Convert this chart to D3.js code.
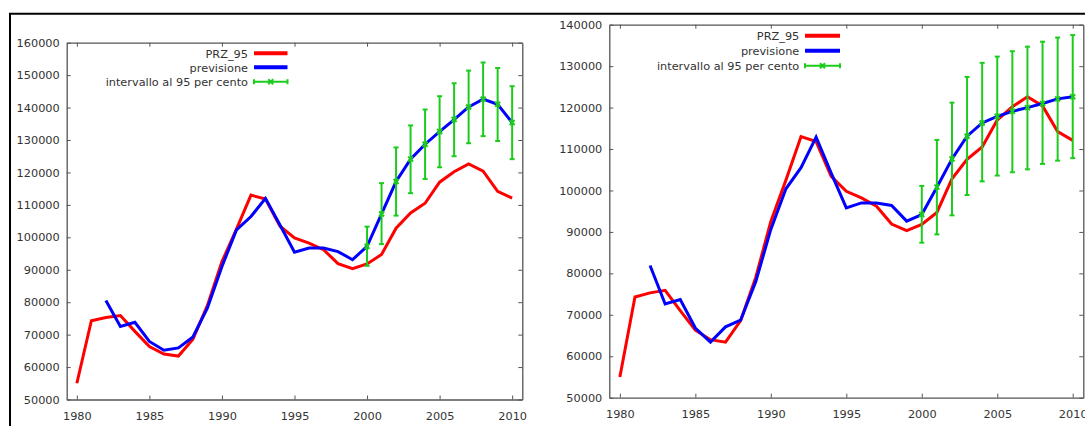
<!DOCTYPE html>
<html>
<head>
<meta charset="utf-8">
<script src="https://cdn.jsdelivr.net/npm/d3@7"></script>
<style>
  body { margin: 0; background: #fff; }
  svg { display: block; }
</style>
</head>
<body>
<div id="chart"></div>
<script>
// data
var years = [1980, 1981, 1982, 1983, 1984, 1985, 1986, 1987, 1988, 1989, 1990,
    1991, 1992, 1993, 1994, 1995, 1996, 1997, 1998, 1999, 2000,
    2001, 2002, 2003, 2004, 2005, 2006, 2007, 2008, 2009, 2010];
var prz95 = [55000, 74300, 75300, 75900, 71000, 66300, 64000, 63400, 68600, 79000, 92500,
    102500, 113000, 111800, 103400, 99800, 98200, 96200, 91900, 90300, 91800,
    94700, 102800, 107500, 110500, 117000, 120200, 122600, 120400, 114200, 112100];

var forecastYears = [1982, 1983, 1984, 1985, 1986, 1987, 1988, 1989, 1990,
    1991, 1992, 1993, 1994, 1995, 1996, 1997, 1998, 1999, 2000,
    2001, 2002, 2003, 2004, 2005, 2006, 2007, 2008, 2009, 2010];
var forecastLeft = [80500, 72500, 73800, 67900, 65200, 65900, 69300, 78200, 91000,
    102300, 106400, 112000, 103800, 95400, 96700, 96700, 95600, 93100, 97200,
    107200, 117200, 124100, 128700, 132600, 136300, 140200, 142600, 141000, 135400];
var forecastRight = [81900, 72600, 73700, 66800, 63400, 67100, 68700, 78000, 90600,
    100400, 105500, 112900, 104200, 95800, 97000, 97000, 96400, 92600, 94200,
    100800, 107600, 113100, 116300, 117900, 119100, 120000, 121000, 122100, 122600];

var ciYears = [2000, 2001, 2002, 2003, 2004, 2005, 2006, 2007, 2008, 2009, 2010];
var ciLowLeft = [91200, 97900, 106700, 113600, 118000, 121600, 125000, 129000, 131200, 129700, 124100];
var ciHighLeft = [103300, 116700, 127700, 134500, 139400, 143500, 147500, 151400, 153900, 152200, 146600];
var ciLowRight = [87400, 89400, 94000, 98900, 102200, 103600, 104400, 105100, 106400, 107200, 107800];
var ciHighRight = [101100, 112200, 121200, 127400, 130800, 132300, 133600, 134700, 135900, 136900, 137500];

var xTicks = [1980, 1985, 1990, 1995, 2000, 2005, 2010];
var yTicksLeft = [50000, 60000, 70000, 80000, 90000, 100000, 110000, 120000, 130000, 140000, 150000, 160000];
var yTicksRight = [50000, 60000, 70000, 80000, 90000, 100000, 110000, 120000, 130000, 140000];

var legendLabels = ["PRZ_95", "previsione", "intervallo al 95 per cento"];

// style
var svgWidth = 1085, svgHeight = 426;
var redColour = "#ff0000", blueColour = "#0000ff", greenColour = "#1ccc1c";
var axisColour = "#555", textColour = "#333";
var fontFamily = "'DejaVu Sans', Verdana, sans-serif", fontSize = 11.3;

var svg = d3.select("#chart").append("svg")
    .attr("width", svgWidth).attr("height", svgHeight);

// black frame (top + left edge)
svg.append("line")
    .attr("x1", 9).attr("y1", 13.8).attr("x2", svgWidth).attr("y2", 13.8)
    .style("stroke", "#000").style("stroke-width", 2);
svg.append("line")
    .attr("x1", 10).attr("y1", 13).attr("x2", 10).attr("y2", svgHeight)
    .style("stroke", "#000").style("stroke-width", 2);

function drawPanel(p) {
    var g = svg.append("g");
    var x = d3.scaleLinear().domain([1979.3, 2010.7]).range([p.left, p.right]);
    var y = d3.scaleLinear().domain([50000, p.yMax]).range([p.bottom, p.top]);

    //axes (ticks inside, mirrored on top/right)
    var bottomAxis = g.append("g").attr("transform", "translate(0," + p.bottom + ")")
        .call(d3.axisBottom(x).tickValues(xTicks).tickFormat(d3.format("d"))
            .tickSizeInner(-4).tickSizeOuter(0).tickPadding(12));
    var topAxis = g.append("g").attr("transform", "translate(0," + p.top + ")")
        .call(d3.axisTop(x).tickValues(xTicks).tickFormat("")
            .tickSizeInner(-4).tickSizeOuter(0));
    var leftAxis = g.append("g").attr("transform", "translate(" + p.left + ",0)")
        .call(d3.axisLeft(y).tickValues(p.yTicks).tickFormat(d3.format("d"))
            .tickSizeInner(-4).tickSizeOuter(0).tickPadding(7));
    var rightAxis = g.append("g").attr("transform", "translate(" + p.right + ",0)")
        .call(d3.axisRight(y).tickValues(p.yTicks).tickFormat("")
            .tickSizeInner(-4).tickSizeOuter(0));
    [bottomAxis, topAxis, leftAxis, rightAxis].forEach(function(a) {
        a.selectAll("path.domain").style("stroke", axisColour).style("stroke-width", 1.3);
        a.selectAll("line").style("stroke", axisColour).style("stroke-width", 1);
        a.selectAll("text").style("fill", textColour)
            .style("font-family", fontFamily).style("font-size", fontSize + "px");
    });

    var plot = g.append("g");
    var line = d3.line().x(function(d) { return x(d[0]); }).y(function(d) { return y(d[1]); });

    //PRZ_95
    plot.append("path")
        .datum(d3.zip(years, prz95))
        .attr("d", line)
        .style("fill", "none").style("stroke", redColour).style("stroke-width", 3);

    //previsione
    plot.append("path")
        .datum(d3.zip(forecastYears, p.forecast))
        .attr("d", line)
        .style("fill", "none").style("stroke", blueColour).style("stroke-width", 3);

    //error bars
    var ciData = ciYears.map(function(yr, i) {
        return { year: yr, mid: p.forecast[forecastYears.indexOf(yr)], lo: p.ciLow[i], hi: p.ciHigh[i] };
    });
    var bars = plot.selectAll("g.ci").data(ciData).enter().append("g").attr("class", "ci");
    bars.append("line")
        .attr("x1", function(d) { return x(d.year); }).attr("x2", function(d) { return x(d.year); })
        .attr("y1", function(d) { return y(d.lo); }).attr("y2", function(d) { return y(d.hi); });
    bars.append("line")
        .attr("x1", function(d) { return x(d.year) - 2.5; }).attr("x2", function(d) { return x(d.year) + 2.5; })
        .attr("y1", function(d) { return y(d.lo); }).attr("y2", function(d) { return y(d.lo); });
    bars.append("line")
        .attr("x1", function(d) { return x(d.year) - 2.5; }).attr("x2", function(d) { return x(d.year) + 2.5; })
        .attr("y1", function(d) { return y(d.hi); }).attr("y2", function(d) { return y(d.hi); });
    bars.append("path")
        .attr("d", function(d) {
            var cx = x(d.year), cy = y(d.mid), s = 2.5;
            return "M" + (cx - s) + "," + (cy - s) + "L" + (cx + s) + "," + (cy + s) +
                "M" + (cx - s) + "," + (cy + s) + "L" + (cx + s) + "," + (cy - s);
        });
    bars.selectAll("line, path").style("stroke", greenColour).style("stroke-width", 2).style("fill", "none");

    //legend
    var legend = g.append("g");
    var colours = [redColour, blueColour, greenColour];
    legendLabels.forEach(function(label, i) {
        var ly = p.legendY[i];
        legend.append("text")
            .text(label)
            .attr("x", p.legendTextX)
            .attr("y", ly + 4.2)
            .attr("text-anchor", "end")
            .style("fill", textColour)
            .style("font-family", fontFamily).style("font-size", fontSize + "px");
        legend.append("line")
            .attr("x1", p.legendX1).attr("x2", p.legendX2)
            .attr("y1", ly).attr("y2", ly)
            .style("stroke", colours[i]).style("stroke-width", i < 2 ? 4 : 2);
        if (i === 2) {
            [p.legendX1, p.legendX2].forEach(function(cx) {
                legend.append("line")
                    .attr("x1", cx).attr("x2", cx).attr("y1", ly - 2.5).attr("y2", ly + 2.5)
                    .style("stroke", greenColour).style("stroke-width", 2);
            });
            var mx = (p.legendX1 + p.legendX2) / 2, s = 2.5;
            legend.append("path")
                .attr("d", "M" + (mx - s) + "," + (ly - s) + "L" + (mx + s) + "," + (ly + s) +
                    "M" + (mx - s) + "," + (ly + s) + "L" + (mx + s) + "," + (ly - s))
                .style("stroke", greenColour).style("stroke-width", 2).style("fill", "none");
        }
    });
}

drawPanel({
    left: 66.7, right: 522.3, top: 42.7, bottom: 399.5,
    yMax: 160000, yTicks: yTicksLeft,
    forecast: forecastLeft, ciLow: ciLowLeft, ciHigh: ciHighLeft,
    legendTextX: 248, legendX1: 254, legendX2: 287.5, legendY: [53.3, 67.3, 81.7]
});
drawPanel({
    left: 609.3, right: 1083.3, top: 24.7, bottom: 397.7,
    yMax: 140000, yTicks: yTicksRight,
    forecast: forecastRight, ciLow: ciLowRight, ciHigh: ciHighRight,
    legendTextX: 799.3, legendX1: 805, legendX2: 840, legendY: [35.7, 50.7, 65.7]
});
</script>
</body>
</html>
